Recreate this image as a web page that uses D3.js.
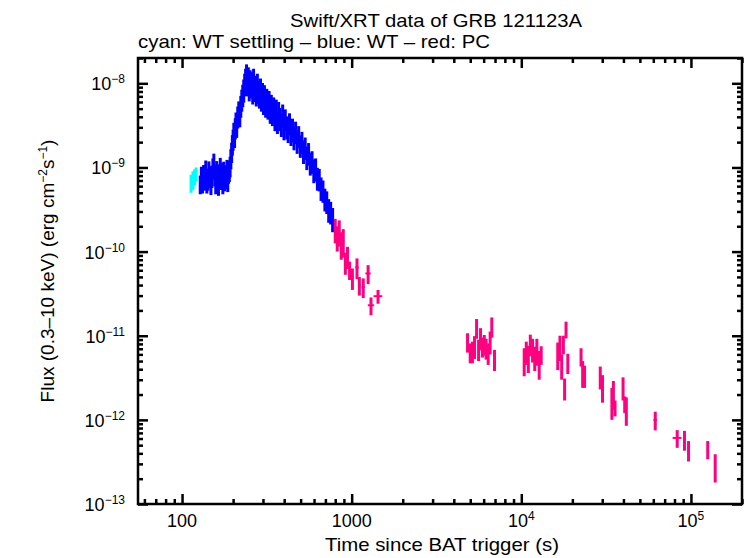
<!DOCTYPE html>
<html lang="en">
<head>
<meta charset="UTF-8">
<title>Swift/XRT GRB 121123A</title>
<script src="https://cdn.jsdelivr.net/npm/d3@7"></script>
<style>
    body { margin: 0; background: #fff; }
    text { font-family: "Liberation Sans", Arial, sans-serif; fill: #000; }
</style>
</head>
<body>
<div id="chart"></div>
<script>
    // each row: [time (s), time half-width, flux, flux error]
    var wtSettling = [
        [113, 1.5, 6.6e-10, 1.6e-10],
        [116, 1.5, 7.2e-10, 1.8e-10],
        [118.5, 1.5, 7.8e-10, 1.7e-10],
        [121, 1.5, 8.4e-10, 1.6e-10]
    ];
    var wt = [
        [128, 1.5, 6.4e-10, 1.6e-10], [130, 1.5, 7.9e-10, 2.3e-10], [132, 1.5, 6.9e-10, 2.0e-10],
        [134, 1.5, 8.3e-10, 2.4e-10], [136, 1.5, 7.4e-10, 2.1e-10], [138, 1.5, 9.4e-10, 2.7e-10],
        [140, 1.5, 6.6e-10, 1.7e-10], [142, 1.5, 7.5e-10, 2.2e-10], [144, 1.5, 9.2e-10, 2.6e-10],
        [146, 1.5, 8.0e-10, 2.3e-10], [148, 1.5, 6.3e-10, 1.6e-10], [150, 1.5, 8.1e-10, 2.4e-10],
        [152, 1.5, 1.0e-9, 2.8e-10], [154, 1.5, 1.15e-9, 3.1e-10], [156, 1.5, 8.4e-10, 2.4e-10],
        [158, 1.5, 6.5e-10, 1.7e-10], [160, 1.5, 9.3e-10, 2.6e-10], [162, 1.5, 7.1e-10, 2.1e-10],
        [164, 1.5, 6.2e-10, 1.6e-10], [166, 1.5, 8.4e-10, 2.5e-10], [168, 1.5, 1.02e-9, 2.8e-10],
        [170, 1.5, 7.6e-10, 2.2e-10], [172, 1.5, 8.8e-10, 2.5e-10], [174, 1.5, 6.5e-10, 1.7e-10],
        [176, 1.5, 9.1e-10, 2.6e-10], [178, 1.5, 7.3e-10, 2.1e-10], [180, 1.5, 8.2e-10, 2.4e-10],
        [182, 1.5, 7.8e-10, 2.3e-10], [184, 1.5, 9.6e-10, 2.7e-10], [186, 1.5, 7.2e-10, 2.1e-10],
        [188, 1.5, 8.9e-10, 2.5e-10], [190, 1.5, 9.4e-10, 2.7e-10],
        [192, 1.5, 1.05e-9, 2.9e-10], [194, 1.5, 1.3e-9, 3.5e-10], [196, 1.5, 1.55e-9, 4.2e-10],
        [198, 1.5, 1.9e-9, 5.2e-10], [200, 1.5, 2.2e-9, 6.2e-10], [202, 1.5, 2.65e-9, 7.5e-10],
        [204, 1.5, 2.4e-9, 7.0e-10], [206, 1.5, 3.0e-9, 8.5e-10], [208, 1.5, 3.5e-9, 1.0e-9],
        [210, 1.5, 3.2e-9, 9.5e-10], [213, 1.5, 4.1e-9, 1.2e-9], [216, 1.5, 4.7e-9, 1.4e-9],
        [219, 1.5, 4.3e-9, 1.3e-9], [222, 1.5, 5.5e-9, 1.6e-9], [225, 1.5, 6.5e-9, 1.9e-9],
        [228, 1.5, 7.4e-9, 2.2e-9], [231, 1.5, 8.5e-9, 2.6e-9], [234, 1.5, 1.0e-8, 3.0e-9],
        [237, 1.5, 1.15e-8, 3.4e-9], [240, 1.5, 1.3e-8, 3.8e-9], [243, 1.5, 1.0e-8, 3.0e-9],
        [246, 1.5, 1.2e-8, 3.5e-9], [249, 1.5, 8.8e-9, 2.7e-9], [252, 1.5, 1.1e-8, 3.3e-9],
        [255, 1.5, 9.4e-9, 2.8e-9], [258, 1.5, 1.05e-8, 3.1e-9], [261, 1.5, 8.0e-9, 2.4e-9],
        [264, 1.5, 1.15e-8, 3.4e-9], [267, 1.5, 8.6e-9, 2.6e-9], [270, 1.5, 9.5e-9, 2.8e-9],
        [274, 2, 7.6e-9, 2.3e-9], [278, 2, 1.0e-8, 3.0e-9], [282, 2, 8.2e-9, 2.5e-9],
        [286, 2, 7.2e-9, 2.2e-9], [290, 2, 8.8e-9, 2.6e-9], [294, 2, 6.6e-9, 2.0e-9],
        [298, 2, 7.8e-9, 2.3e-9], [302, 2, 6.0e-9, 1.8e-9], [306, 2, 7.3e-9, 2.2e-9],
        [311, 2, 5.6e-9, 1.7e-9], [316, 2, 6.6e-9, 2.0e-9], [321, 2, 5.3e-9, 1.6e-9],
        [326, 2, 6.2e-9, 1.9e-9], [331, 2, 4.7e-9, 1.4e-9], [336, 2, 5.6e-9, 1.7e-9],
        [341, 2, 4.5e-9, 1.4e-9], [347, 3, 5.2e-9, 1.6e-9], [353, 3, 3.9e-9, 1.2e-9],
        [359, 3, 4.9e-9, 1.5e-9], [365, 3, 3.6e-9, 1.1e-9], [371, 3, 4.6e-9, 1.4e-9],
        [378, 3, 3.9e-9, 1.2e-9], [385, 3, 3.3e-9, 1.0e-9], [392, 3, 4.3e-9, 1.3e-9],
        [399, 3, 3.0e-9, 9e-10], [406, 3, 3.8e-9, 1.1e-9], [414, 3, 3.1e-9, 9.5e-10],
        [422, 3, 2.8e-9, 8.5e-10], [430, 4, 3.4e-9, 1.0e-9], [439, 4, 2.6e-9, 8e-10],
        [448, 4, 2.9e-9, 9e-10], [457, 4, 2.3e-9, 7e-10], [467, 4, 2.7e-9, 8e-10],
        [477, 4, 2.1e-9, 6.5e-10], [487, 5, 2.4e-9, 7e-10], [498, 5, 1.85e-9, 5.5e-10],
        [509, 5, 2.05e-9, 6e-10], [520, 5, 1.6e-9, 5e-10], [532, 6, 1.75e-9, 5.2e-10],
        [544, 6, 1.35e-9, 4.2e-10], [557, 6, 1.5e-9, 4.5e-10], [570, 6, 1.15e-9, 3.5e-10],
        [584, 7, 1.2e-9, 3.6e-10], [598, 7, 9.5e-10, 3e-10], [613, 7, 9.8e-10, 3e-10],
        [628, 8, 7.6e-10, 2.3e-10], [644, 8, 7.4e-10, 2.2e-10], [660, 8, 5.8e-10, 1.8e-10],
        [677, 9, 5.4e-10, 1.6e-10], [695, 9, 4.3e-10, 1.3e-10], [713, 9, 4.0e-10, 1.2e-10],
        [732, 10, 3.2e-10, 1.0e-10], [752, 10, 3.0e-10, 9e-11], [772, 10, 2.5e-10, 8e-11]
    ];
    var pc = [
        [800, 10, 1.85e-10, 6e-11], [822, 10, 1.5e-10, 5e-11], [845, 10, 1.75e-10, 6e-11],
        [868, 12, 1.25e-10, 4.5e-11], [892, 12, 1.35e-10, 5e-11], [918, 12, 7.5e-11, 2.2e-11],
        [945, 14, 8.8e-11, 2.6e-11], [972, 14, 6.1e-11, 1.5e-11], [1010, 16, 4.9e-11, 1.4e-11],
        [1075, 25, 6.5e-11, 1.8e-11], [1110, 20, 4.0e-11, 1.0e-11], [1170, 25, 3.8e-11, 1.0e-11],
        [1250, 45, 5.5e-11, 1.4e-11], [1300, 55, 2.3e-11, 5.5e-12], [1430, 85, 2.95e-11, 5.5e-12],
        [4820, 60, 8.5e-12, 2.2e-12], [5000, 60, 6.4e-12, 1.7e-12], [5150, 60, 6.6e-12, 1.9e-12],
        [5300, 60, 7.6e-12, 2.3e-12], [5450, 60, 1.25e-11, 3.3e-12], [5600, 60, 7.0e-12, 2.0e-12],
        [5750, 60, 9.5e-12, 2.8e-12], [5900, 60, 7.5e-12, 2.0e-12], [6050, 60, 8.0e-12, 2.2e-12],
        [6200, 60, 7.2e-12, 2.0e-12], [6380, 60, 6.3e-12, 1.8e-12], [6550, 60, 8.6e-12, 2.6e-12],
        [6700, 60, 1.3e-11, 3.5e-12], [6950, 80, 5.3e-12, 1.5e-12],
        [10400, 80, 5.2e-12, 1.9e-12], [10700, 80, 6.5e-12, 2.0e-12], [11000, 80, 5.6e-12, 2.0e-12],
        [11300, 80, 8.0e-12, 2.3e-12], [11650, 80, 7.0e-12, 2.2e-12], [12000, 80, 5.6e-12, 1.8e-12],
        [12350, 80, 6.8e-12, 2.4e-12], [12750, 80, 4.8e-12, 1.8e-12], [13100, 80, 6.0e-12, 1.5e-12],
        [16400, 120, 6.1e-12, 2.2e-12], [16900, 120, 7.5e-12, 2.5e-12], [17300, 120, 4.5e-12, 1.5e-12],
        [17700, 120, 8.0e-12, 2.0e-12], [18000, 120, 2.4e-12, 0.7e-12], [18350, 120, 1.2e-11, 2.7e-12],
        [18800, 150, 4.8e-12, 1.3e-12],
        [22500, 200, 5.7e-12, 1.4e-12], [23000, 200, 3.7e-12, 1.3e-12], [23600, 250, 3.4e-12, 1.0e-12],
        [29200, 300, 3.3e-12, 1.0e-12], [30100, 300, 2.5e-12, 0.9e-12],
        [34200, 350, 1.7e-12, 0.7e-12], [34900, 350, 2.1e-12, 0.8e-12], [35700, 400, 1.4e-12, 0.3e-12],
        [39800, 400, 2.45e-12, 0.75e-12], [40700, 400, 1.55e-12, 0.35e-12], [41600, 500, 1.35e-12, 0.5e-12],
        [61600, 1500, 1.0e-12, 0.25e-12],
        [83000, 5000, 6.1e-13, 1.45e-13],
        [91600, 1500, 5.85e-13, 1.55e-13],
        [96800, 1500, 4.4e-13, 1.2e-13],
        [125600, 1500, 4.5e-13, 1.1e-13],
        [139000, 1500, 2.85e-13, 1.05e-13]
    ];

    var xTickValues = [100, 1000, 1e4, 1e5];
    var xTickLabels = [["100", ""], ["1000", ""], ["10", "4"], ["10", "5"]];
    var yTickValues = [1e-8, 1e-9, 1e-10, 1e-11, 1e-12, 1e-13];
    var yTickLabels = [["10", "\u22128"], ["10", "\u22129"], ["10", "\u221210"],
                       ["10", "\u221211"], ["10", "\u221212"], ["10", "\u221213"]];

    var margin = { top: 58, right: 4, bottom: 54, left: 138 },
        width = 746 - margin.left - margin.right,
        height = 558 - margin.top - margin.bottom;

    var svg = d3.select("#chart")
        .append("svg")
        .attr("width", 746)
        .attr("height", 558);

    var g = svg.append("g")
        .attr("transform", "translate(" + margin.left + "," + margin.top + ")");

    var x = d3.scaleLog().domain([55, 2e5]).range([0, width]);
    var y = d3.scaleLog().domain([1e-13, 2e-8]).range([height, 0]);

    // minor ticks = every multiple that is not a power of ten
    function isMajor(v) {
        var l = Math.log10(v);
        return Math.abs(l - Math.round(l)) < 1e-6;
    }
    var xMinor = x.ticks().filter(function (d) { return !isMajor(d); });
    var yMinor = y.ticks().filter(function (d) { return !isMajor(d); });

    function styleAxis(sel) {
        sel.select(".domain").remove();
        sel.selectAll("line").attr("stroke", "#000").attr("stroke-width", 2.5);
    }

    // ticks pointing inward on all four sides
    [[xTickValues, 10], [xMinor, 5]].forEach(function (t) {
        g.append("g").attr("transform", "translate(0," + height + ")")
            .call(d3.axisBottom(x).tickValues(t[0]).tickSize(-t[1]).tickFormat(""))
            .call(styleAxis);
        g.append("g")
            .call(d3.axisTop(x).tickValues(t[0]).tickSize(-t[1]).tickFormat(""))
            .call(styleAxis);
    });
    [[yTickValues, 10], [yMinor, 5]].forEach(function (t) {
        g.append("g")
            .call(d3.axisLeft(y).tickValues(t[0]).tickSize(-t[1]).tickFormat(""))
            .call(styleAxis);
        g.append("g").attr("transform", "translate(" + width + ",0)")
            .call(d3.axisRight(y).tickValues(t[0]).tickSize(-t[1]).tickFormat(""))
            .call(styleAxis);
    });

    // frame
    g.append("rect")
        .attr("width", width)
        .attr("height", height)
        .attr("fill", "none")
        .attr("stroke", "#000")
        .attr("stroke-width", 2.5);

    // tick labels
    xTickValues.forEach(function (v, i) {
        var t = g.append("text")
            .attr("x", x(v))
            .attr("y", height + 23)
            .attr("text-anchor", "middle")
            .attr("font-size", 18);
        t.append("tspan").text(xTickLabels[i][0]);
        if (xTickLabels[i][1]) {
            t.append("tspan").attr("dy", -7).attr("font-size", 12).text(xTickLabels[i][1]);
        }
    });
    yTickValues.forEach(function (v, i) {
        var t = g.append("text")
            .attr("x", -13)
            .attr("y", y(v) + 7)
            .attr("text-anchor", "end")
            .attr("font-size", 18);
        t.append("tspan").text(yTickLabels[i][0]);
        t.append("tspan").attr("dy", -7).attr("font-size", 12).text(yTickLabels[i][1]);
    });

    // titles
    svg.append("text")
        .attr("x", 436).attr("y", 27)
        .attr("text-anchor", "middle")
        .attr("font-size", 19)
        .attr("textLength", 292).attr("lengthAdjust", "spacingAndGlyphs")
        .text("Swift/XRT data of GRB 121123A");
    svg.append("text")
        .attr("x", 138).attr("y", 48)
        .attr("font-size", 19)
        .attr("textLength", 352).attr("lengthAdjust", "spacingAndGlyphs")
        .text("cyan: WT settling \u2013 blue: WT \u2013 red: PC");
    svg.append("text")
        .attr("x", 442).attr("y", 551)
        .attr("text-anchor", "middle")
        .attr("font-size", 19)
        .attr("textLength", 234).attr("lengthAdjust", "spacingAndGlyphs")
        .text("Time since BAT trigger (s)");

    var yl = svg.append("text")
        .attr("transform", "translate(54,271) rotate(-90)")
        .attr("text-anchor", "middle")
        .attr("font-size", 19);
    yl.append("tspan").text("Flux (0.3\u201310 keV) (erg cm");
    yl.append("tspan").attr("dy", -7).attr("font-size", 12).text("\u22122");
    yl.append("tspan").attr("dy", 7).text("s");
    yl.append("tspan").attr("dy", -7).attr("font-size", 12).text("\u22121");
    yl.append("tspan").attr("dy", 7).text(")");

    // error-bar crosses
    function drawSeries(data, colour) {
        var s = g.append("g").attr("stroke", colour);
        s.selectAll(".v").data(data).enter().append("line")
            .attr("x1", function (d) { return x(d[0]); })
            .attr("x2", function (d) { return x(d[0]); })
            .attr("y1", function (d) { return y(d[2] + d[3]); })
            .attr("y2", function (d) { return y(Math.max(d[2] - d[3], 1e-14)); })
            .attr("stroke-width", 3);
        s.selectAll(".h").data(data).enter().append("line")
            .attr("x1", function (d) { return x(d[0] - d[1]); })
            .attr("x2", function (d) { return x(d[0] + d[1]); })
            .attr("y1", function (d) { return y(d[2]); })
            .attr("y2", function (d) { return y(d[2]); })
            .attr("stroke-width", 2);
    }
    drawSeries(wtSettling, "#00ffff");
    drawSeries(wt, "#0000ff");
    drawSeries(pc, "#ff0080");
</script>
</body>
</html>
